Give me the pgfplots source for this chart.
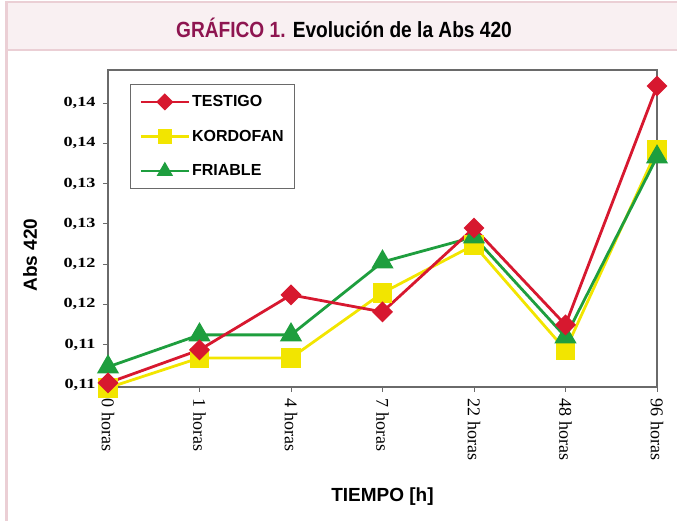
\documentclass[border=0pt]{standalone}
\usepackage{fontspec}
\setmainfont{Liberation Serif}
\setsansfont{Liberation Sans}
\newfontfamily\tickyfont[FakeStretch=1.3]{Liberation Serif}
\newfontfamily\titlefont[FakeStretch=0.87]{Liberation Sans}
\usepackage{pgfplots}
\pgfplotsset{compat=1.18}
\definecolor{cred}{HTML}{D7182F}
\definecolor{cyel}{HTML}{F2E500}
\definecolor{cgrn}{HTML}{1E9E3E}
\definecolor{framec}{HTML}{EBCFD5}
\definecolor{bandc}{HTML}{F9F0F2}
\definecolor{maroonc}{HTML}{8E1550}
\definecolor{axc}{HTML}{6A6A6A}
\pgfplotstableread{
x testigo kordofan friable
0 0.10526 0.10464 0.10724
1 0.10935 0.10836 0.11122
2 0.11618 0.10836 0.11122
3 0.11407 0.11643 0.12027
4 0.12449 0.12238 0.12337
5 0.11246 0.10935 0.11097
6 0.14211 0.13417 0.13330
}\datatable
\begin{document}
\begin{tikzpicture}
\path[use as bounding box] (0pt,0pt) rectangle (677pt,521pt);
\fill[bandc] (6pt,471pt) rectangle (677pt,519pt);
\draw[framec,line width=2pt] (6pt,519pt) -- (677pt,519pt);
\draw[framec,line width=2pt] (6pt,471pt) -- (677pt,471pt);
\draw[framec,line width=3pt] (6pt,520pt) -- (6pt,0pt);
\node[font=\titlefont\bfseries\fontsize{22}{25}\selectfont] at (344pt,493pt)
  {\textcolor{maroonc}{GRÁFICO 1.} Evolución de la Abs 420};
\begin{axis}[
  at={(108pt,134pt)}, anchor=south west,
  scale only axis, width=549pt, height=317pt,
  xmin=0, xmax=6, ymin=0.10475, ymax=0.1441,
  xtick={0,...,6},
  xticklabels={0 horas,1 horas,4 horas,7 horas,22 horas,48 horas,96 horas},
  ytick={0.105,0.11,0.115,0.12,0.125,0.13,0.135,0.14},
  yticklabels={{0,11},{0,11},{0,12},{0,12},{0,13},{0,13},{0,14},{0,14}},
  tick align=outside, tick pos=left,
  major tick length=5pt,
  tick style={axc, line width=1pt},
  axis line style={axc, line width=1.3pt},
  yticklabel style={font=\tickyfont\bfseries\fontsize{14}{16}\selectfont, xshift=-4pt},
  xticklabel style={font=\rmfamily\fontsize{18}{20}\selectfont, rotate=-90, anchor=west, xshift=3pt},
  xlabel={TIEMPO [h]},
  ylabel={Abs 420},
  xlabel style={font=\sffamily\bfseries\fontsize{19}{22}\selectfont, at={(axis description cs:0.5,-0.347)}, anchor=center},
  ylabel style={font=\sffamily\bfseries\fontsize{19}{22}\selectfont, at={(axis description cs:-0.142,0.416)}, anchor=center, rotate=0},
  clip=false,
  legend cell align=left,
  legend style={at={(axis description cs:0.040,0.956)}, anchor=north west,
    draw=axc, line width=1.3pt, font=\sffamily\bfseries\fontsize{16}{18}\selectfont,
    row sep=18pt, inner sep=9pt},
  legend image code/.code={\draw[mark repeat=2,mark phase=2] plot coordinates {(0pt,0pt) (24pt,0pt) (48pt,0pt)};},
]
\addlegendimage{cred, line width=2.5pt, mark=square*, mark options={rotate=45, solid, scale=0.8}, mark size=6pt}
\addlegendentry{TESTIGO}
\addlegendimage{cyel, line width=2.5pt, mark=square*, mark size=6pt}
\addlegendentry{KORDOFAN}
\addlegendimage{cgrn, line width=2.5pt, mark=triangle*, mark size=7pt}
\addlegendentry{FRIABLE}
\addplot[forget plot, cyel, line width=2.8pt, mark=square*, mark size=8.5pt] table[x=x,y=kordofan]{\datatable};
\addplot[forget plot, cgrn, line width=2.8pt, mark=triangle*, mark size=10pt] table[x=x,y=friable]{\datatable};
\addplot[forget plot, cred, line width=2.8pt, mark=square*, mark options={rotate=45}, mark size=6pt] table[x=x,y=testigo]{\datatable};
\end{axis}
\end{tikzpicture}
\end{document}
